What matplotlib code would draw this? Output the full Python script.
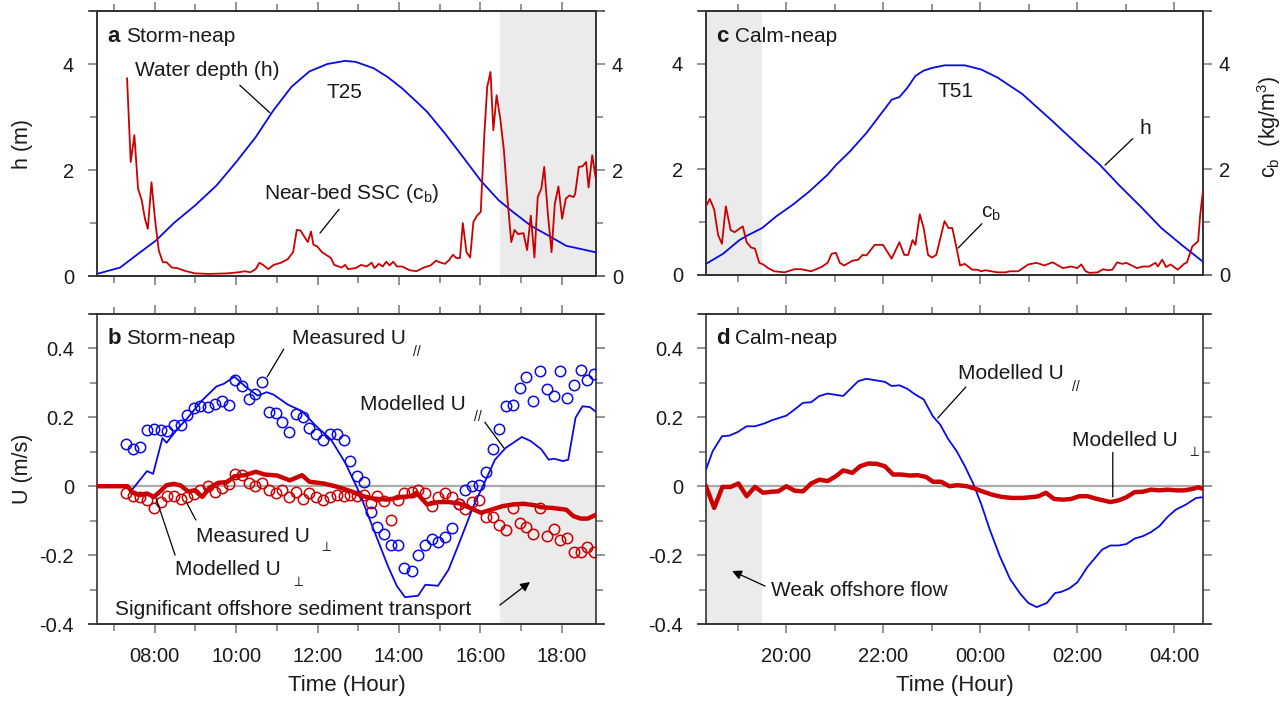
import numpy as np
import matplotlib
matplotlib.use("Agg")
import matplotlib.pyplot as plt
from matplotlib.ticker import MultipleLocator, FuncFormatter

plt.rcParams['font.family'] = ['Liberation Sans', 'DejaVu Sans']
plt.rcParams['mathtext.fontset'] = 'custom'
plt.rcParams['mathtext.rm'] = 'Liberation Sans'
plt.rcParams['mathtext.it'] = 'Liberation Sans:italic'

BLUE = '#0a0ae6'
RED = '#cc0000'
SHADE = '#ebebeb'
INK = '#1a1a1a'
TICK = '#777777'

# ---------------- panel a : storm-neap, station T25 (time in decimal hours)
t_h_a = [6.58, 7.15, 7.68, 8.03, 8.47, 8.99, 9.52, 10.0, 10.48, 10.92, 11.36, 11.80, 12.24, 12.68, 12.94,
         13.38, 13.73, 14.08, 14.43, 14.69, 15.13, 15.57, 16.01, 16.45, 16.80, 17.24, 17.68, 18.11, 18.47, 18.82]
h_a = [0.04, 0.16, 0.47, 0.67, 1.0, 1.33, 1.71, 2.15, 2.62, 3.13, 3.57, 3.86, 4.0, 4.06, 4.04,
       3.92, 3.75, 3.54, 3.29, 3.10, 2.69, 2.25, 1.80, 1.43, 1.21, 0.95, 0.76, 0.57, 0.51, 0.45]

t_cb_a = [7.32, 7.41, 7.50, 7.59, 7.68, 7.76, 7.83, 7.92, 8.01, 8.10, 8.20, 8.29, 8.42, 8.55, 8.73, 8.99,
          9.34, 9.78, 10.05, 10.22, 10.35, 10.48, 10.57, 10.66, 10.79, 10.92, 11.10, 11.27, 11.40, 11.49,
          11.58, 11.76, 11.84, 11.90, 11.99, 12.11, 12.33, 12.41, 12.59, 12.68, 12.75, 12.94, 13.07, 13.20,
          13.33, 13.40, 13.51, 13.60, 13.69, 13.77, 13.86, 13.95, 14.08, 14.26, 14.43, 14.61, 14.78, 14.91,
          15.00, 15.13, 15.22, 15.33, 15.41, 15.50, 15.57, 15.66, 15.75, 15.83, 15.92, 16.01, 16.10, 16.17,
          16.25, 16.32, 16.40, 16.49, 16.58, 16.67, 16.76, 16.84, 16.93, 17.06, 17.15, 17.24, 17.33, 17.41,
          17.50, 17.57, 17.66, 17.75, 17.83, 17.92, 18.01, 18.10, 18.19, 18.29, 18.33, 18.42, 18.51, 18.60,
          18.66, 18.75, 18.83]
cb_a = [3.73, 2.15, 2.66, 1.65, 1.43, 1.08, 0.89, 1.77, 1.05, 0.48, 0.26, 0.26, 0.16, 0.15, 0.10, 0.05,
        0.04, 0.05, 0.07, 0.09, 0.07, 0.13, 0.25, 0.21, 0.13, 0.21, 0.25, 0.32, 0.45, 0.87,
        0.86, 0.64, 0.84, 0.59, 0.56, 0.45, 0.34, 0.21, 0.16, 0.21, 0.13, 0.15, 0.21, 0.18,
        0.25, 0.15, 0.23, 0.18, 0.27, 0.20, 0.27, 0.18, 0.18, 0.11, 0.09, 0.16, 0.20, 0.29,
        0.26, 0.23, 0.29, 0.40, 0.34, 0.34, 1.00, 0.45, 0.35, 1.02, 1.14, 1.21, 2.69, 3.57,
        3.85, 2.75, 3.41, 2.97, 2.37, 1.43, 0.64, 0.87, 0.79, 0.81, 0.49, 1.14, 0.35, 1.49,
        1.65, 2.06, 1.17, 0.45, 1.36, 1.69, 1.08, 1.46, 1.52, 1.49, 1.55, 2.06, 2.07, 2.15,
        1.67, 2.28, 1.87]

# ---------------- panel b : storm-neap velocities
t_mod_par_b = [7.33, 7.41, 7.81, 7.96, 8.19, 8.29, 8.55, 8.82, 9.17, 9.52, 9.69, 9.96, 10.22, 10.53, 10.75,
               10.92, 11.27, 11.62, 11.97, 12.33, 12.68, 13.03, 13.38, 13.73, 13.95, 14.15, 14.47, 14.65,
               14.96, 15.22, 15.48, 15.83, 16.10, 16.36, 16.62, 17.02, 17.24, 17.50, 17.68, 17.81, 18.03,
               18.16, 18.34, 18.51, 18.69, 18.82]
mod_par_b = [0.0, -0.015, 0.044, 0.036, 0.14, 0.126, 0.165, 0.2, 0.25, 0.29, 0.297, 0.318, 0.29, 0.263, 0.273,
             0.266, 0.237, 0.218, 0.174, 0.136, 0.068, -0.019, -0.126, -0.232, -0.29, -0.322, -0.318, -0.286,
             -0.289, -0.242, -0.165, -0.058, 0.01, 0.077, 0.111, 0.143, 0.131, 0.107, 0.077, 0.08, 0.073,
             0.077, 0.199, 0.232, 0.23, 0.218]

t_mod_perp_b = [6.58, 7.33, 7.46, 7.63, 7.81, 7.98, 8.16, 8.29, 8.47, 8.64, 8.82, 8.99, 9.17, 9.34, 9.56,
                9.78, 9.96, 10.22, 10.48, 10.70, 11.01, 11.32, 11.62, 11.80, 12.15, 12.50, 12.85, 13.12,
                13.38, 13.73, 14.08, 14.30, 14.43, 14.69, 14.96, 15.22, 15.48, 15.75, 16.01, 16.27, 16.54,
                16.80, 17.06, 17.33, 17.50, 17.76, 18.11, 18.29, 18.47, 18.64, 18.82]
mod_perp_b = [0, 0, -0.019, -0.026, -0.021, -0.031, -0.012, 0.003, 0.007, 0.002, -0.015, -0.012, -0.031, -0.005, 0.01,
              0.012, 0.029, 0.032, 0.042, 0.034, 0.031, 0.017, 0.032, 0.013, 0.008, -0.002, -0.016, -0.029,
              -0.036, -0.039, -0.031, -0.029, -0.019, -0.053, -0.046, -0.046, -0.05, -0.063, -0.077, -0.068, -0.058,
              -0.053, -0.051, -0.055, -0.061, -0.063, -0.068, -0.087, -0.094, -0.094, -0.084]

t_meas_b = [7.30, 7.47, 7.65, 7.80, 7.99, 8.15, 8.31, 8.47, 8.64, 8.80, 8.97, 9.12, 9.30, 9.47, 9.65,
            9.83, 9.97, 10.14, 10.31, 10.47, 10.64, 10.81, 10.97, 11.13, 11.31, 11.47, 11.64, 11.80, 11.97, 12.14,
            12.31, 12.47, 12.64, 12.81, 12.97, 13.14, 13.31, 13.47, 13.64, 13.81, 13.97, 14.13, 14.31, 14.47, 14.63,
            14.81, 14.97, 15.13, 15.31, 15.47, 15.63, 15.80, 15.97, 16.13, 16.30, 16.47, 16.62, 16.80, 16.97, 17.13,
            17.30, 17.47, 17.63, 17.81, 17.97, 18.13, 18.31, 18.47, 18.63, 18.80]
meas_par_b = [0.123, 0.107, 0.113, 0.162, 0.167, 0.163, 0.160, 0.179, 0.177, 0.206,
              0.226, 0.232, 0.230, 0.239, 0.247, 0.235, 0.308, 0.29, 0.254, 0.268,
              0.303, 0.216, 0.213, 0.186, 0.158, 0.211, 0.201, 0.169, 0.153, 0.135,
              0.152, 0.152, 0.133, 0.073, 0.029, 0.013, -0.076, -0.119, -0.139, -0.172,
              -0.172, -0.237, -0.245, -0.201, -0.172, -0.153, -0.162, -0.147, -0.121, -0.051,
              -0.012, 0.0, 0.005, 0.041, 0.108, 0.167, 0.232, 0.237, 0.284, 0.318,
              0.247, 0.334, 0.281, 0.263, 0.334, 0.255, 0.295, 0.337, 0.307, 0.326]
meas_perp_b = [-0.019, -0.029, -0.031, -0.039, -0.063, -0.046, -0.029, -0.029, -0.036, -0.032,
               -0.024, -0.012, 0.002, -0.016, -0.005, 0.007, 0.036, 0.034, 0.01, 0.0,
               0.01, -0.01, -0.021, -0.01, -0.031, -0.016, -0.036, -0.021, -0.031, -0.041,
               -0.031, -0.026, -0.029, -0.026, -0.029, -0.026, -0.05, -0.029, -0.044, -0.097,
               -0.039, -0.019, -0.017, -0.01, -0.021, -0.058, -0.031, -0.019, -0.031, -0.053,
               -0.065, -0.046, -0.041, -0.089, -0.089, -0.114, -0.128, -0.063, -0.108, -0.118,
               -0.139, -0.063, -0.145, -0.123, -0.155, -0.150, -0.191, -0.191, -0.177, -0.191]

# ---------------- panel c : calm-neap, station T51 (hours past midnight continue as 24, 25, ...)
t_h_c = [18.34, 18.69, 19.03, 19.20, 19.50, 19.79, 20.13, 20.47, 20.85, 21.02, 21.31, 21.65, 21.99, 22.17,
         22.33, 22.49, 22.66, 22.83, 23.00, 23.26, 23.68, 24.02, 24.35, 24.86, 25.49, 26.04, 26.46, 26.85,
         27.31, 27.73, 28.15, 28.59]
h_c = [0.21, 0.40, 0.66, 0.75, 0.89, 1.11, 1.33, 1.58, 1.90, 2.08, 2.34, 2.69, 3.10, 3.32,
       3.37, 3.54, 3.77, 3.87, 3.92, 3.97, 3.97, 3.89, 3.74, 3.43, 2.91, 2.44, 2.09, 1.71,
       1.29, 0.89, 0.57, 0.25]

t_cb_c = [18.34, 18.42, 18.51, 18.59, 18.67, 18.75, 18.85, 18.93, 19.02, 19.10, 19.18, 19.27, 19.35, 19.44,
          19.52, 19.62, 19.75, 19.96, 20.17, 20.30, 20.51, 20.72, 20.85, 20.93, 21.02, 21.10, 21.19, 21.36,
          21.48, 21.57, 21.65, 21.82, 21.99, 22.17, 22.33, 22.43, 22.51, 22.60, 22.66, 22.75, 22.83, 22.92,
          23.00, 23.09, 23.26, 23.34, 23.42, 23.51, 23.58, 23.68, 23.83, 23.93, 24.02, 24.10, 24.35, 24.52,
          24.61, 24.78, 24.99, 25.16, 25.32, 25.49, 25.70, 25.87, 26.00, 26.08, 26.17, 26.25, 26.42, 26.53,
          26.63, 26.72, 26.82, 26.93, 27.01, 27.23, 27.35, 27.48, 27.61, 27.66, 27.75, 27.83, 27.92, 28.07,
          28.20, 28.26, 28.37, 28.49, 28.53, 28.59]
cb_c = [1.30, 1.44, 1.24, 0.76, 0.59, 1.30, 0.85, 0.81, 0.87, 0.92, 0.62, 0.52, 0.50, 0.23,
        0.20, 0.13, 0.07, 0.05, 0.11, 0.11, 0.07, 0.15, 0.23, 0.40, 0.42, 0.23, 0.18, 0.27,
        0.29, 0.38, 0.37, 0.57, 0.57, 0.31, 0.62, 0.38, 0.38, 0.66, 0.57, 1.15, 0.89, 0.38,
        0.33, 0.38, 1.02, 0.89, 0.89, 0.50, 0.18, 0.21, 0.10, 0.10, 0.07, 0.09, 0.05, 0.05,
        0.07, 0.07, 0.20, 0.23, 0.18, 0.24, 0.13, 0.16, 0.13, 0.20, 0.07, 0.04, 0.05, 0.11,
        0.09, 0.10, 0.24, 0.21, 0.23, 0.13, 0.16, 0.16, 0.23, 0.16, 0.29, 0.15, 0.20, 0.10,
        0.21, 0.24, 0.54, 0.64, 1.11, 1.60]

# ---------------- panel d : calm-neap modelled velocities
t_mod_par_d = [18.34, 18.48, 18.67, 18.82, 18.99, 19.18, 19.35, 19.54, 19.71, 20.00, 20.17, 20.34, 20.51, 20.68,
               20.85, 21.17, 21.48, 21.65, 22.03, 22.17, 22.33, 22.49, 22.66, 22.83, 23.02, 23.17, 23.34, 23.51,
               23.68, 23.85, 24.02, 24.18, 24.40, 24.61, 24.82, 24.99, 25.16, 25.37, 25.54, 25.66, 25.83, 26.00,
               26.21, 26.51, 26.68, 26.85, 27.01, 27.18, 27.35, 27.52, 27.69, 27.86, 28.03, 28.24, 28.45, 28.58]
mod_par_d = [0.048, 0.102, 0.145, 0.147, 0.157, 0.174, 0.174, 0.182, 0.192, 0.205, 0.223, 0.242, 0.244, 0.262,
             0.269, 0.262, 0.305, 0.312, 0.303, 0.291, 0.293, 0.283, 0.266, 0.252, 0.203, 0.179, 0.136, 0.102,
             0.058, 0.008, -0.053, -0.121, -0.203, -0.269, -0.312, -0.339, -0.351, -0.339, -0.310, -0.307, -0.297, -0.279,
             -0.234, -0.184, -0.172, -0.172, -0.168, -0.152, -0.145, -0.133, -0.116, -0.089, -0.068, -0.053, -0.034, -0.032]

t_mod_perp_d = [18.34, 18.51, 18.68, 18.85, 19.01, 19.18, 19.35, 19.52, 19.69, 19.83, 20.00, 20.17, 20.34, 20.51,
                20.68, 20.85, 21.02, 21.17, 21.36, 21.52, 21.69, 21.86, 22.03, 22.20, 22.37, 22.54, 22.71, 22.88,
                23.02, 23.19, 23.36, 23.53, 23.72, 23.89, 24.06, 24.23, 24.44, 24.65, 24.86, 25.11, 25.20, 25.35,
                25.52, 25.70, 25.87, 26.04, 26.21, 26.38, 26.68, 26.85, 27.01, 27.18, 27.35, 27.52, 27.69, 27.86,
                28.03, 28.20, 28.37, 28.49, 28.58]
mod_perp_d = [0.0, -0.063, -0.002, -0.002, 0.008, -0.029, -0.002, -0.019, -0.016, -0.015, 0.0, -0.013, -0.015, 0.008,
              0.019, 0.015, 0.029, 0.046, 0.039, 0.058, 0.066, 0.065, 0.058, 0.034, 0.034, 0.031, 0.032, 0.027,
              0.013, 0.013, 0.0, 0.003, 0.0, -0.007, -0.016, -0.024, -0.031, -0.034, -0.034, -0.031, -0.029, -0.019,
              -0.037, -0.039, -0.037, -0.029, -0.029, -0.036, -0.046, -0.041, -0.032, -0.017, -0.016, -0.010, -0.012, -0.010,
              -0.012, -0.012, -0.008, -0.003, -0.007]

# axis ranges and shaded windows (hours)
xlim_storm = (6.58, 18.84)
xlim_calm = (18.34, 28.59)
shade_storm = (16.49, 18.84)
shade_calm = (18.34, 19.50)
ylim_h = (0, 5)
ylim_u = (-0.4, 0.5)


def hour_fmt(v, pos):
    return f"{int(round(v)) % 24:02d}:00"


def u_fmt(v, pos):
    if abs(v) < 1e-9:
        return "0"
    return f"{v:.1f}"


def style_axes(ax, xlim, show_xlabels):
    ax.set_xlim(*xlim)
    ax.xaxis.set_major_locator(MultipleLocator(2))
    ax.xaxis.set_minor_locator(MultipleLocator(1))
    ax.xaxis.set_major_formatter(FuncFormatter(hour_fmt))
    ax.tick_params(axis='both', which='major', direction='out', length=6.5, width=1.1,
                   color=TICK, labelsize=14.5, labelcolor=INK, pad=10)
    ax.tick_params(axis='both', which='minor', direction='out', length=5, width=1.1, color=TICK)
    ax.tick_params(axis='x', which='both', top=True, labelbottom=show_xlabels)
    for s in ax.spines.values():
        s.set_color('#333333')
        s.set_linewidth(1.2)
    # horizontal frame lines run a little past the vertical ones
    for yy in (0, 1):
        ax.plot([-0.016, 1.016], [yy, yy], transform=ax.transAxes, color='#333333',
                lw=1.2, clip_on=False, zorder=5)


def sub_label(ax, x, y, text, sx, sy, sub, fs=15):
    ax.text(x, y, text, fontsize=fs, color=INK, ha='left', va='center')
    ax.text(sx, sy, sub, fontsize=10, color=INK, ha='left', va='center')


def leader(ax, p0, p1, arrow=False):
    ax.annotate('', xy=p1, xytext=p0,
                arrowprops=dict(arrowstyle='-|>' if arrow else '-', color='black', lw=0.9,
                                shrinkA=0, shrinkB=0, mutation_scale=14))


fig = plt.figure(figsize=(12.84, 7.02), dpi=100)
ax_a = fig.add_axes([0.0755, 0.6068, 0.3886, 0.3775])
ax_b = fig.add_axes([0.0755, 0.1111, 0.3886, 0.4416])
ax_c = fig.add_axes([0.5498, 0.6083, 0.3871, 0.3761])
ax_d = fig.add_axes([0.5498, 0.1111, 0.3871, 0.4416])

# ---- a
ax_a.axvspan(*shade_storm, color=SHADE, lw=0, zorder=0)
ax_a.plot(t_h_a, h_a, color=BLUE, lw=1.3, zorder=3)
ax_a.set_ylim(*ylim_h)
ax_a2 = ax_a.twinx()
ax_a2.plot(t_cb_a, cb_a, color=RED, lw=1.3, zorder=3)
ax_a2.set_ylim(*ylim_h)

# ---- c
ax_c.axvspan(*shade_calm, color=SHADE, lw=0, zorder=0)
ax_c.plot(t_h_c, h_c, color=BLUE, lw=1.3, zorder=3)
ax_c.set_ylim(*ylim_h)
ax_c2 = ax_c.twinx()
ax_c2.plot(t_cb_c, cb_c, color=RED, lw=1.3, zorder=3)
ax_c2.set_ylim(*ylim_h)

for ax, ax2, xl in ((ax_a, ax_a2, xlim_storm), (ax_c, ax_c2, xlim_calm)):
    style_axes(ax, xl, False)
    ax2.set_xlim(*xl)
    for a in (ax, ax2):
        a.yaxis.set_major_locator(MultipleLocator(2))
        a.yaxis.set_minor_locator(MultipleLocator(1))
        a.yaxis.set_major_formatter(FuncFormatter(lambda v, p: f"{v:.0f}"))
    ax.tick_params(axis='y', which='both', right=False)
    ax2.tick_params(axis='y', which='major', direction='out', length=6.5, width=1.1,
                    color=TICK, labelsize=14.5, labelcolor=INK, pad=5)
    ax2.tick_params(axis='y', which='minor', direction='out', length=5, width=1.1, color=TICK)
    for s in ax2.spines.values():
        s.set_color('#333333')
        s.set_linewidth(1.2)

# ---- b
ax_b.fill_between(shade_storm, ylim_u[0], 0, color=SHADE, lw=0, zorder=0)
ax_b.axhline(0, color='#aaaaaa', lw=1.6, zorder=1)
ax_b.plot(t_meas_b, meas_par_b, 'o', mfc='none', mec=BLUE, mew=1.1, ms=7.5, zorder=3)
ax_b.plot(t_meas_b, meas_perp_b, 'o', mfc='none', mec=RED, mew=1.1, ms=7.5, zorder=3)
ax_b.plot(t_mod_par_b, mod_par_b, color=BLUE, lw=1.3, zorder=4)
ax_b.plot(t_mod_perp_b, mod_perp_b, color=RED, lw=3.2, zorder=4, solid_joinstyle='round')

# ---- d
ax_d.fill_between(shade_calm, ylim_u[0], 0, color=SHADE, lw=0, zorder=0)
ax_d.axhline(0, color='#aaaaaa', lw=1.6, zorder=1)
ax_d.plot(t_mod_par_d, mod_par_d, color=BLUE, lw=1.3, zorder=4)
ax_d.plot(t_mod_perp_d, mod_perp_d, color=RED, lw=3.2, zorder=4, solid_joinstyle='round')

for ax, xl in ((ax_b, xlim_storm), (ax_d, xlim_calm)):
    ax.set_ylim(*ylim_u)
    style_axes(ax, xl, True)
    ax.yaxis.set_major_locator(MultipleLocator(0.2))
    ax.yaxis.set_minor_locator(MultipleLocator(0.1))
    ax.yaxis.set_major_formatter(FuncFormatter(u_fmt))
    ax.tick_params(axis='y', which='both', right=True)
    ax.set_xlabel('Time (Hour)', fontsize=16, color=INK)
    ax.xaxis.set_label_coords(0.5, -0.165)

# axis labels
ax_a.set_ylabel('h (m)', fontsize=15.5, color=INK)
ax_a.yaxis.set_label_coords(-0.128, 0.5)
ax_b.set_ylabel('U (m/s)', fontsize=15.5, color=INK)
ax_b.yaxis.set_label_coords(-0.128, 0.5)
ax_c2.set_ylabel(r'c$_\mathrm{b}$  (kg/m$^3$)', fontsize=15.5, color=INK)
ax_c2.yaxis.set_label_coords(1.105, 0.56)

# panel tags
for ax, tag, name, y in ((ax_a, 'a', 'Storm-neap', 0.905), (ax_b, 'b', 'Storm-neap', 0.92),
                         (ax_c, 'c', 'Calm-neap', 0.905), (ax_d, 'd', 'Calm-neap', 0.92)):
    ax.text(0.021, y, tag, transform=ax.transAxes, fontsize=16, fontweight='bold', color=INK,
            ha='left', va='center', zorder=6)
    ax.text(0.058, y, name, transform=ax.transAxes, fontsize=15, color=INK,
            ha='left', va='center', zorder=6)

# ---- annotations a
ax_a.text(7.51, 3.87, 'Water depth (h)', fontsize=15, color=INK, ha='left', va='center')
leader(ax_a, (10.09, 3.60), (10.83, 3.08))
ax_a.text(12.65, 3.47, 'T25', fontsize=15, color=INK, ha='center', va='center')
ax_a.text(10.68, 1.55, r'Near-bed SSC (c$_\mathrm{b}$)', fontsize=15, color=INK, ha='left', va='center')
leader(ax_a, (12.53, 1.26), (12.06, 0.81))

# ---- annotations b
sub_label(ax_b, 11.37, 0.429, 'Measured U', 14.34, 0.39, '//')
leader(ax_b, (11.17, 0.398), (10.76, 0.317))
sub_label(ax_b, 13.04, 0.236, 'Modelled U', 15.84, 0.20, '//')
leader(ax_b, (16.11, 0.186), (16.58, 0.111))
sub_label(ax_b, 9.01, -0.145, 'Measured U', 12.03, -0.176, r'$\perp$')
leader(ax_b, (9.01, -0.098), (8.79, -0.049))
sub_label(ax_b, 8.50, -0.243, 'Modelled U', 11.35, -0.278, r'$\perp$')
leader(ax_b, (8.50, -0.200), (8.03, -0.034))
ax_b.text(7.02, -0.357, 'Significant offshore sediment transport', fontsize=15, color=INK,
          ha='left', va='center')
leader(ax_b, (16.48, -0.345), (17.22, -0.278), arrow=True)

# ---- annotations c
ax_c.text(23.49, 3.47, 'T51', fontsize=15, color=INK, ha='center', va='center')
ax_c.text(27.41, 2.77, 'h', fontsize=15, color=INK, ha='center', va='center')
leader(ax_c, (27.14, 2.58), (26.57, 2.08))
ax_c.text(24.22, 1.17, r'c$_\mathrm{b}$', fontsize=15, color=INK, ha='center', va='center')
leader(ax_c, (24.03, 0.97), (23.54, 0.51))

# ---- annotations d
sub_label(ax_d, 23.54, 0.326, 'Modelled U', 25.89, 0.288, '//')
leader(ax_d, (23.70, 0.288), (23.12, 0.198))
sub_label(ax_d, 25.89, 0.134, 'Modelled U', 28.26, 0.10, r'$\perp$')
leader(ax_d, (26.73, 0.098), (26.73, -0.031))
ax_d.text(19.68, -0.304, 'Weak offshore flow', fontsize=15, color=INK, ha='left', va='center')
leader(ax_d, (19.56, -0.29), (18.88, -0.246), arrow=True)

fig.savefig('out.png', dpi=100)
